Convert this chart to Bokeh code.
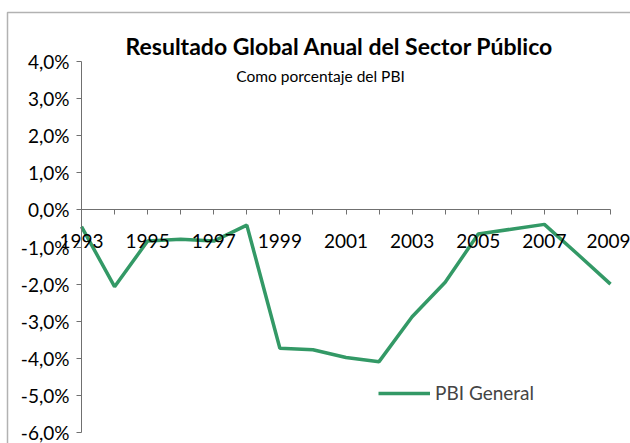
from bokeh.plotting import figure
from bokeh.models import (FixedTicker, Label, BoxAnnotation, Legend, LegendItem, Range1d)
from bokeh.embed import file_html
from bokeh.resources import INLINE

# ---- data ----
years = list(range(1993, 2010))
pbi_general = [-0.45, -2.07, -0.84, -0.79, -0.84, -0.41, -3.73, -3.77, -3.98,
               -4.09, -2.88, -1.95, -0.65, -0.52, -0.39, -1.19, -2.00]
y_ticks = [-6, -5, -4, -3, -2, -1, 0, 1, 2, 3, 4]
x_label_years = [1993, 1995, 1997, 1999, 2001, 2003, 2005, 2007, 2009]
title_text = "Resultado Global Anual del Sector Público"
subtitle_text = "Como porcentaje del PBI"
series_name = "PBI General"

FONT = "Lato"
GREEN = "#339966"
AXIS = "#707070"

# ---- layout (pixels) ----
W, H = 630, 443
PLOT_L, PLOT_R, PLOT_T, PLOT_B = 81, 610, 61, 432   # plot area on the canvas

x0, x1 = years[0], years[-1]
y0, y1 = y_ticks[0], y_ticks[-1]
xpp = (x1 - x0) / (PLOT_R - PLOT_L)
ypp = (y1 - y0) / (PLOT_B - PLOT_T)
x_range = Range1d(x0 - PLOT_L * xpp, x1 + (W - PLOT_R) * xpp)
y_range = Range1d(y0 - (H - PLOT_B) * ypp, y1 + PLOT_T * ypp)

p = figure(width=W, height=H, output_backend="svg", toolbar_location=None,
           x_range=x_range, y_range=y_range,
           min_border=0, outline_line_color=None, title=None)
p.grid.visible = False

# y axis
ya = p.yaxis[0]
ya.fixed_location = x0
ya.bounds = (y0, y1)
ya.ticker = FixedTicker(ticks=y_ticks)
ya.major_label_overrides = {t: ("%.1f%%" % t).replace(".", ",") for t in y_ticks}
ya.axis_line_color = AXIS
ya.major_tick_line_color = AXIS
ya.major_tick_out = 5
ya.major_tick_in = 0
ya.minor_tick_out = 0
ya.minor_tick_in = 0
ya.major_label_standoff = 7
ya.major_label_text_font = FONT
ya.major_label_text_font_size = "19px"
ya.major_label_text_color = "black"

# x axis at 0
xa = p.xaxis[0]
xa.fixed_location = 0
xa.bounds = (x0, x1)
xa.ticker = FixedTicker(ticks=years)
xa.major_label_overrides = {y: (str(y) if y in x_label_years else "") for y in years}
xa.axis_line_color = AXIS
xa.major_tick_line_color = AXIS
xa.major_tick_out = 5
xa.major_tick_in = 0
xa.minor_tick_out = 0
xa.minor_tick_in = 0
xa.major_label_standoff = 19
xa.major_label_text_font = FONT
xa.major_label_text_font_size = "19px"
xa.major_label_text_color = "black"

r = p.line(years, pbi_general, line_color=GREEN, line_width=3.5)

legend = Legend(items=[LegendItem(label=series_name, renderers=[r])], location=(378, H - 404),
                padding=0, margin=0, border_line_color=None, background_fill_alpha=0,
                glyph_width=52, glyph_height=20, label_standoff=5,
                label_text_font=FONT, label_text_font_size="19px")
p.add_layout(legend)

p.add_layout(Label(x=339, y=H - 45, x_units="screen", y_units="screen", text=title_text,
                   text_align="center", text_baseline="alphabetic", text_font=FONT,
                   text_font_style="bold", text_font_size="23px", text_color="black"))
p.add_layout(Label(x=320, y=H - 75, x_units="screen", y_units="screen", text=subtitle_text,
                   text_align="center", text_baseline="alphabetic", text_font=FONT,
                   text_font_size="15.5px", text_color="black"))

p.add_layout(BoxAnnotation(left=7, right=W + 50, top=H - 12, bottom=-50,
                           left_units="screen", right_units="screen",
                           top_units="screen", bottom_units="screen",
                           fill_alpha=0, line_color="black", line_width=1.5))

open("out.html", "w").write(file_html(p, INLINE))
